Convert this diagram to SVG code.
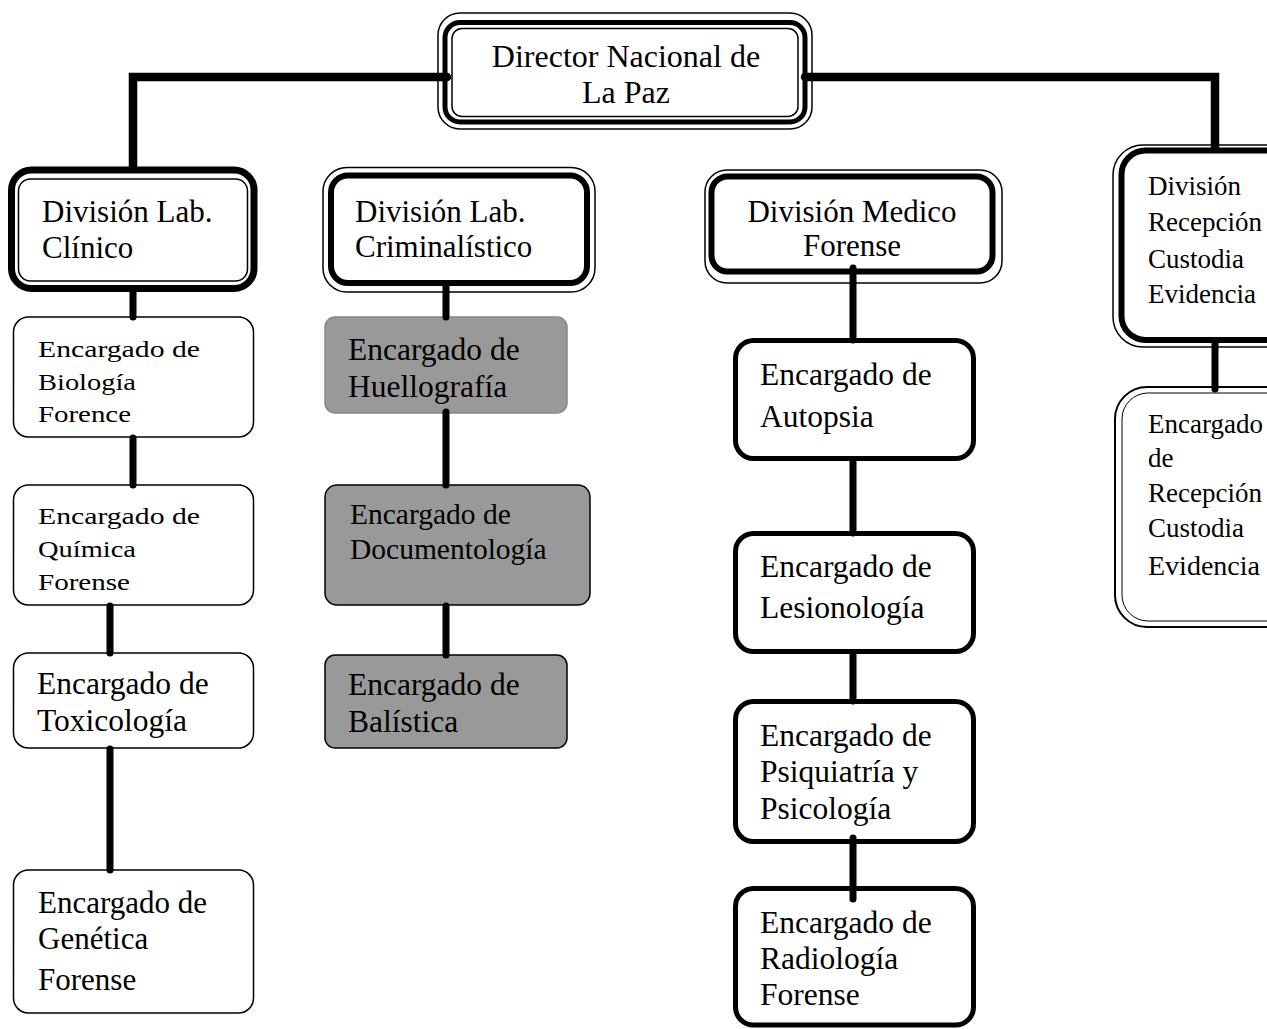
<svg xmlns="http://www.w3.org/2000/svg" width="1267" height="1029" viewBox="0 0 1267 1029">
<style>
.t{font-family:"Liberation Serif","Times New Roman",serif;fill:#000}
.conn{fill:none;stroke:#000;stroke-width:7;stroke-linecap:round}
.main{fill:none;stroke:#000;stroke-width:8.5;stroke-linecap:round;stroke-linejoin:miter}
.thin{fill:none;stroke:#000;stroke-width:1.5}
.wthin{fill:#fff;stroke:#000;stroke-width:1.5}
.thick{fill:none;stroke:#000;stroke-width:6}
.box{fill:#fff;stroke:#000;stroke-width:1.5}
.boxb{fill:#fff;stroke:#000;stroke-width:5}
.gray{fill:#999;stroke:#000;stroke-width:1.5}
</style>
<rect width="1267" height="1029" fill="#fff"/>

<g id="director">
<rect class="wthin" x="438" y="13" width="374" height="116" rx="22"/>
<rect fill="none" stroke="#000" stroke-width="5" x="445" y="22.5" width="360" height="99.5" rx="15"/>
<rect class="thin" x="452" y="28.5" width="346" height="88" rx="10"/>
<text class="t" font-size="32" text-anchor="middle" x="626" y="67">Director Nacional de</text>
<text class="t" font-size="32" text-anchor="middle" x="626" y="103">La Paz</text>
</g>

<g id="div-clinico">
<rect fill="#fff" stroke="#000" stroke-width="7" x="11.5" y="170" width="242.5" height="118.5" rx="20"/>
<rect class="thin" x="18.5" y="179" width="229" height="102" rx="12"/>
<text class="t" font-size="31" x="42" y="222">División Lab.</text>
<text class="t" font-size="31" x="42" y="258">Clínico</text>
</g>

<g id="div-criminalistico">
<rect class="wthin" x="323" y="167.5" width="272" height="124.5" rx="24"/>
<rect class="thick" x="331" y="175.5" width="256" height="107.5" rx="17"/>
<text class="t" font-size="31" x="355" y="222">División Lab.</text>
<text class="t" font-size="31" x="355" y="257">Criminalístico</text>
</g>

<g id="div-medico">
<rect class="wthin" x="705" y="170" width="297" height="113" rx="22"/>
<rect class="thick" x="711.5" y="176.5" width="281" height="95" rx="16"/>
<text class="t" font-size="31" text-anchor="middle" x="852" y="222">División Medico</text>
<text class="t" font-size="31" text-anchor="middle" x="852" y="256">Forense</text>
</g>

<g id="div-recepcion">
<rect class="wthin" x="1113" y="145" width="200" height="202" rx="30"/>
<rect class="thick" x="1121.5" y="150.5" width="190" height="189.5" rx="24"/>
<text class="t" font-size="27" x="1148" y="195">División</text>
<text class="t" font-size="27" x="1148" y="231">Recepción</text>
<text class="t" font-size="27" x="1148" y="268">Custodia</text>
<text class="t" font-size="27" x="1148" y="303">Evidencia</text>
</g>

<g id="enc-recepcion">
<rect fill="#fff" stroke="#000" stroke-width="2" x="1115" y="387" width="200" height="240" rx="32"/>
<rect fill="none" stroke="#000" stroke-width="1" x="1122" y="393" width="190" height="228" rx="26"/>
<text class="t" font-size="27" x="1148" y="433">Encargado</text>
<text class="t" font-size="27" x="1148" y="467">de</text>
<text class="t" font-size="27" x="1148" y="502">Recepción</text>
<text class="t" font-size="27" x="1148" y="537">Custodia</text>
<text class="t" font-size="28" x="1148" y="575">Evidencia</text>
</g>

<g id="enc-biologia">
<rect class="box" x="13.5" y="317" width="240" height="120" rx="15"/>
<text class="t" font-size="24" x="38" y="357" textLength="162" lengthAdjust="spacingAndGlyphs">Encargado de</text>
<text class="t" font-size="24" x="38" y="390" textLength="98" lengthAdjust="spacingAndGlyphs">Biología</text>
<text class="t" font-size="24" x="38" y="422" textLength="93" lengthAdjust="spacingAndGlyphs">Forence</text>
</g>

<g id="enc-quimica">
<rect class="box" x="13.5" y="485" width="240" height="120" rx="15"/>
<text class="t" font-size="24" x="38" y="524" textLength="162" lengthAdjust="spacingAndGlyphs">Encargado de</text>
<text class="t" font-size="24" x="38" y="557" textLength="98" lengthAdjust="spacingAndGlyphs">Química</text>
<text class="t" font-size="24" x="38" y="590" textLength="92" lengthAdjust="spacingAndGlyphs">Forense</text>
</g>

<g id="enc-toxicologia">
<rect class="box" x="13.5" y="653" width="240" height="95" rx="15"/>
<text class="t" font-size="31.5" x="37" y="694">Encargado de</text>
<text class="t" font-size="31.5" x="37" y="731">Toxicología</text>
</g>

<g id="enc-genetica">
<rect class="box" x="13.5" y="870" width="240" height="143" rx="15"/>
<text class="t" font-size="31" x="38" y="913">Encargado de</text>
<text class="t" font-size="31" x="38" y="949">Genética</text>
<text class="t" font-size="31" x="38" y="990">Forense</text>
</g>

<g id="enc-huellografia">
<rect fill="#999" stroke="#888" stroke-width="1.5" x="325" y="317" width="242" height="96" rx="10"/>
<text class="t" font-size="31.5" x="348" y="360">Encargado de</text>
<text class="t" font-size="31.5" x="348" y="397">Huellografía</text>
</g>

<g id="enc-documentologia">
<rect class="gray" x="325" y="485" width="265" height="120" rx="12"/>
<text class="t" font-size="29.5" x="350" y="524">Encargado de</text>
<text class="t" font-size="29.5" x="350" y="559">Documentología</text>
</g>

<g id="enc-balistica">
<rect class="gray" x="325" y="655" width="242" height="93" rx="10"/>
<text class="t" font-size="31.5" x="348" y="695">Encargado de</text>
<text class="t" font-size="31.5" x="348" y="732">Balística</text>
</g>

<g id="enc-autopsia">
<rect class="boxb" x="735.5" y="340.5" width="238" height="118" rx="18"/>
<text class="t" font-size="31.5" x="760" y="385">Encargado de</text>
<text class="t" font-size="31.5" x="760" y="427">Autopsia</text>
</g>

<g id="enc-lesionologia">
<rect class="boxb" x="735.5" y="533.5" width="238" height="118" rx="18"/>
<text class="t" font-size="31.5" x="760" y="577">Encargado de</text>
<text class="t" font-size="31.5" x="760" y="618">Lesionología</text>
</g>

<g id="enc-psiquiatria">
<rect class="boxb" x="735.5" y="701.5" width="238" height="140" rx="18"/>
<text class="t" font-size="31.5" x="760" y="746">Encargado de</text>
<text class="t" font-size="31.5" x="760" y="782">Psiquiatría y</text>
<text class="t" font-size="31.5" x="760" y="819">Psicología</text>
</g>

<g id="enc-radiologia">
<rect class="boxb" x="735.5" y="888.5" width="238" height="136.5" rx="18"/>
<text class="t" font-size="31.5" x="760" y="933">Encargado de</text>
<text class="t" font-size="31.5" x="760" y="969">Radiología</text>
<text class="t" font-size="31.5" x="760" y="1005">Forense</text>
</g>

<g id="connectors">
<path class="main" d="M447,77 H133 V168"/>
<path class="main" d="M805,77 H1215 V148"/>
<line class="conn" x1="133" y1="292" x2="133" y2="317"/>
<line class="conn" x1="133" y1="438" x2="133" y2="485"/>
<line class="conn" x1="110" y1="606" x2="110" y2="653"/>
<line class="conn" x1="110" y1="749" x2="110" y2="870"/>
<line class="conn" x1="446" y1="284" x2="446" y2="317"/>
<line class="conn" x1="446" y1="412" x2="446" y2="485"/>
<line class="conn" x1="446" y1="606" x2="446" y2="655"/>
<line class="conn" x1="853" y1="268" x2="853" y2="340"/>
<line class="conn" x1="853" y1="460" x2="853" y2="533"/>
<line class="conn" x1="853" y1="653" x2="853" y2="701"/>
<line class="conn" x1="853" y1="838" x2="853" y2="899"/>
<line class="conn" x1="1215" y1="343" x2="1215" y2="389"/>
</g>
</svg>
